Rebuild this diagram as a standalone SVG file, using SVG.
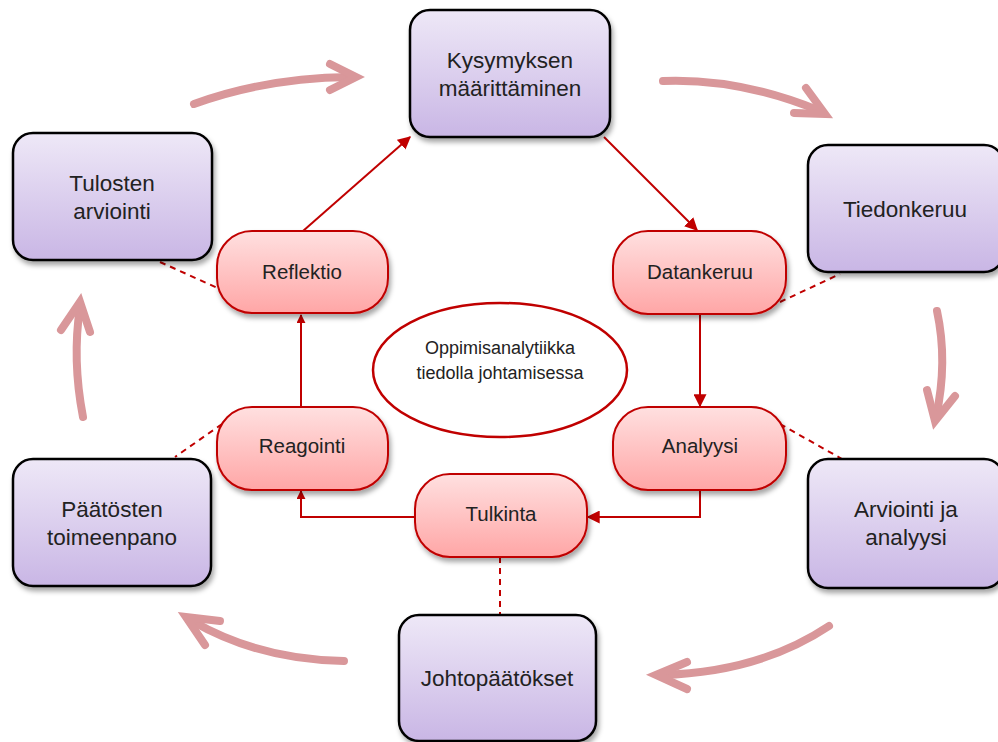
<svg xmlns="http://www.w3.org/2000/svg" width="998" height="742" viewBox="0 0 998 742">
<defs>
<linearGradient id="gp" x1="0" y1="0" x2="0" y2="1"><stop offset="0" stop-color="#eee8f7"/><stop offset="1" stop-color="#c9b6e5"/></linearGradient>
<linearGradient id="gr" x1="0" y1="0" x2="0" y2="1"><stop offset="0" stop-color="#ffe0e0"/><stop offset="1" stop-color="#ffa6a6"/></linearGradient>
<filter id="sh" x="-10%" y="-10%" width="130%" height="140%"><feDropShadow dx="2" dy="4" stdDeviation="2.5" flood-color="#000" flood-opacity="0.35"/></filter>
<marker id="ah" viewBox="0 0 10 10" refX="9" refY="5" markerWidth="9" markerHeight="9" markerUnits="userSpaceOnUse" orient="auto"><path d="M0,0 L10,5 L0,10 z" fill="#c00000"/></marker>
<marker id="ah2" viewBox="0 0 10 10" refX="9" refY="5" markerWidth="13" markerHeight="13" markerUnits="userSpaceOnUse" orient="auto"><path d="M0,0 L10,5 L0,10 z" fill="#c00000"/></marker>
</defs>
<style>
.pb{fill:url(#gp);stroke:#000;stroke-width:2.5;filter:url(#sh)}
.rp{fill:url(#gr);stroke:#c00000;stroke-width:2;filter:url(#sh)}
.t{font-family:"Liberation Sans",Arial,sans-serif;font-size:22.5px;fill:#222;text-anchor:middle}
.tr{font-family:"Liberation Sans",Arial,sans-serif;font-size:20.5px;fill:#222;text-anchor:middle}
.te{font-family:"Liberation Sans",Arial,sans-serif;font-size:18px;fill:#222;text-anchor:middle}
.c{fill:none;stroke:#c00000;stroke-width:2}
.d{fill:none;stroke:#c00000;stroke-width:2;stroke-dasharray:6 5}
.ba{fill:none;stroke:#d9979a;stroke-width:8;stroke-linecap:round;stroke-linejoin:miter;stroke-miterlimit:10}
</style>
<g id="big-arrows">
<path class="ba" d="M194,104 Q265,78 350,77"/>
<path class="ba" d="M330,64 L356,77 L330,90"/>
<path class="ba" d="M663,81 Q740,78 820,111"/>
<path class="ba" d="M806,88 L825,114 L794,113"/>
<path class="ba" d="M937,311 Q948,362 936,417"/>
<path class="ba" d="M927,390 L935,421 L955,396"/>
<path class="ba" d="M829,626 Q760,672 662,675"/>
<path class="ba" d="M687,662 L656,675 L687,689"/>
<path class="ba" d="M344,661 Q260,660 192,621"/>
<path class="ba" d="M220,621 L186,617 L205,645"/>
<path class="ba" d="M83,417 Q72,360 80,307"/>
<path class="ba" d="M61,330 L80,302 L90,332"/>
</g>
<g id="connectors">
<path class="c" d="M303,231 L410,137" marker-end="url(#ah2)"/>
<path class="c" d="M604,137 L697,230" marker-end="url(#ah2)"/>
<path class="c" d="M700,314 L700,406" marker-end="url(#ah2)"/>
<path class="c" d="M700,490 L700,517 L588,517" marker-end="url(#ah2)"/>
<path class="c" d="M415,517 L301,517 L301,491" marker-end="url(#ah)"/>
<path class="c" d="M301,407 L301,315" marker-end="url(#ah)"/>
<path class="d" d="M160,262 L222,290"/>
<path class="d" d="M780,302 L840,274"/>
<path class="d" d="M222,424 L175,457"/>
<path class="d" d="M780,424 L842,459"/>
<path class="d" d="M500,557 L500,615"/>
</g>
<g id="n-kysymyksen"><rect class="pb" x="410" y="10" width="200" height="127" rx="20"/><text class="t" x="510" y="68">Kysymyksen</text><text class="t" x="510" y="96">määrittäminen</text></g>
<g id="n-tiedonkeruu"><rect class="pb" x="808" y="145" width="196" height="127" rx="20"/><text class="t" x="905" y="217">Tiedonkeruu</text></g>
<g id="n-arviointi"><rect class="pb" x="808" y="459" width="196" height="129" rx="20"/><text class="t" x="906" y="517">Arviointi ja</text><text class="t" x="906" y="545">analyysi</text></g>
<g id="n-johtopaatokset"><rect class="pb" x="399" y="615" width="197" height="126" rx="20"/><text class="t" x="497" y="686">Johtopäätökset</text></g>
<g id="n-paatosten"><rect class="pb" x="13" y="459" width="198" height="127" rx="20"/><text class="t" x="112" y="517">Päätösten</text><text class="t" x="112" y="545">toimeenpano</text></g>
<g id="n-tulosten"><rect class="pb" x="13" y="133" width="199" height="127" rx="20"/><text class="t" x="112" y="191">Tulosten</text><text class="t" x="112" y="219">arviointi</text></g>
<g id="n-reflektio"><rect class="rp" x="217" y="231" width="171" height="82" rx="35"/><text class="tr" x="302" y="279">Reflektio</text></g>
<g id="n-datankeruu"><rect class="rp" x="613" y="231" width="173" height="83" rx="35"/><text class="tr" x="700" y="279">Datankeruu</text></g>
<g id="n-reagointi"><rect class="rp" x="217" y="407" width="171" height="83" rx="35"/><text class="tr" x="302" y="453">Reagointi</text></g>
<g id="n-analyysi"><rect class="rp" x="613" y="407" width="173" height="83" rx="35"/><text class="tr" x="700" y="453">Analyysi</text></g>
<g id="n-tulkinta"><rect class="rp" x="415" y="474" width="172" height="83" rx="35"/><text class="tr" x="501" y="521">Tulkinta</text></g>
<g id="n-center"><ellipse cx="500" cy="370" rx="127" ry="67" fill="#fff" stroke="#c00000" stroke-width="2.5"/><text class="te" x="500" y="354">Oppimisanalytiikka</text><text class="te" x="500" y="379">tiedolla johtamisessa</text></g>
</svg>
